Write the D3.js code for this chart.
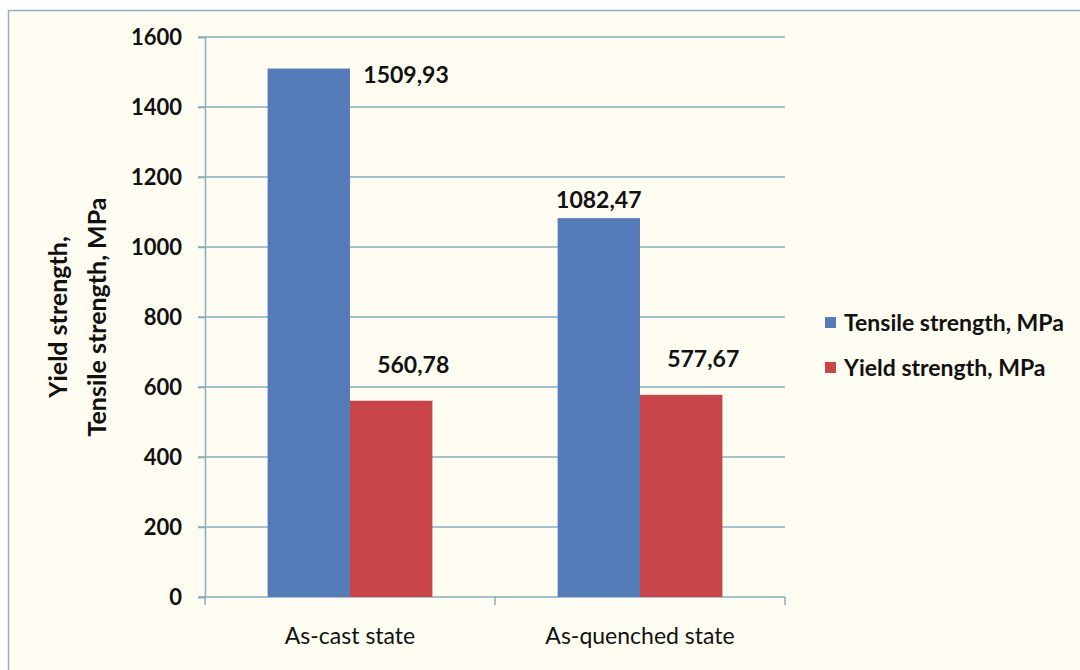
<!DOCTYPE html>
<html>
<head>
<meta charset="utf-8">
<script src="https://cdn.jsdelivr.net/npm/d3@7"></script>
<style>
  body { margin: 0; background: #fff; }
  text { font-family: Lato, "Open Sans", sans-serif; fill: #111; }
</style>
</head>
<body>
<svg id="chart" width="1080" height="670"></svg>
<script>
var categories = ['As-cast state', 'As-quenched state'];
var seriesNames = ['Tensile strength, MPa', 'Yield strength, MPa'];
var tensile = [1509.93, 1082.47];
var yieldS = [560.78, 577.67];
var yTicks = [0, 200, 400, 600, 800, 1000, 1200, 1400, 1600];
var colors = ['#557cb8', '#c9454a'];

var svg = d3.select('#chart');
var W = 1080, H = 670;
var plot = {left: 205, top: 37, right: 785, bottom: 597};

// outer frame
svg.append('rect')
  .attr('x', 0).attr('y', 0).attr('width', W).attr('height', H)
  .style('fill', '#fff');
svg.append('rect')
  .attr('x', 8.5).attr('y', 10.5).attr('width', W + 20).attr('height', H + 20)
  .style('fill', '#fffdf2')
  .style('stroke', '#8fb3c4')
  .style('stroke-width', 1.5);

var y = d3.scaleLinear().domain([0, 1600]).range([plot.bottom, plot.top]);
var x0 = d3.scaleBand().domain(categories).range([plot.left, plot.right]).padding(0);
var x1 = d3.scaleBand().domain(seriesNames)
  .range([0, x0.bandwidth()]).paddingOuter(0.76).paddingInner(0);

// gridlines
var g = svg.append('g');
g.selectAll('line.grid')
  .data(yTicks.filter(function(d) { return d > 0; }))
  .enter().append('line')
  .attr('class', 'grid')
  .attr('x1', plot.left - 7).attr('x2', plot.right)
  .attr('y1', function(d) { return y(d); })
  .attr('y2', function(d) { return y(d); })
  .style('stroke', '#86aebf')
  .style('stroke-width', 1.5);

// y axis
var yAxis = d3.axisLeft(y).tickValues(yTicks).tickSize(7).tickPadding(16)
  .tickFormat(d3.format('d'));
var ya = svg.append('g')
  .attr('transform', 'translate(' + plot.left + ',0)')
  .call(yAxis);
ya.select('.domain').style('stroke', '#86aebf').style('stroke-width', 1.5);
ya.selectAll('.tick line').style('stroke', '#86aebf').style('stroke-width', 1.5);
ya.selectAll('.tick text')
  .style('font-size', '22px').style('font-weight', 'bold').style('fill', '#111');

// x axis
var xa = svg.append('g')
  .attr('transform', 'translate(0,' + plot.bottom + ')');
xa.append('line')
  .attr('x1', plot.left - 7).attr('x2', plot.right)
  .style('stroke', '#86aebf').style('stroke-width', 1.5);
var bounds = categories.map(function(c) { return x0(c); }).concat([plot.right]);
xa.selectAll('line.xt')
  .data(bounds)
  .enter().append('line')
  .attr('class', 'xt')
  .attr('x1', function(d) { return d; }).attr('x2', function(d) { return d; })
  .attr('y1', 0).attr('y2', 8)
  .style('stroke', '#86aebf').style('stroke-width', 1.5);
xa.selectAll('text')
  .data(categories)
  .enter().append('text')
  .attr('x', function(d) { return x0(d) + x0.bandwidth() / 2; })
  .attr('y', 47)
  .attr('text-anchor', 'middle')
  .style('font-size', '23px')
  .text(function(d) { return d; });

// bars
var rows = [];
categories.forEach(function(c, i) {
  rows.push({cat: c, s: 0, v: tensile[i]});
  rows.push({cat: c, s: 1, v: yieldS[i]});
});
svg.append('g').selectAll('rect')
  .data(rows)
  .enter().append('rect')
  .attr('x', function(d) { return x0(d.cat) + x1(seriesNames[d.s]); })
  .attr('y', function(d) { return y(d.v); })
  .attr('width', x1.bandwidth())
  .attr('height', function(d) { return y(0) - y(d.v); })
  .style('fill', function(d) { return colors[d.s]; });

// data labels
var fmt = function(v) { return d3.format('.2f')(v).replace('.', ','); };
svg.append('g').selectAll('text')
  .data(rows)
  .enter().append('text')
  .attr('x', function(d) {
    var cx = x0(d.cat) + x1(seriesNames[d.s]) + x1.bandwidth() / 2;
    if (y(d.v) - 40 < plot.top) return cx + x1.bandwidth() * 1.18;
    return d.s === 1 ? cx + 22 : cx;
  })
  .attr('y', function(d) {
    if (y(d.v) - 40 < plot.top) return y(d.v) + 14;
    return d.s === 1 ? y(d.v) - 28 : y(d.v) - 10;
  })
  .attr('text-anchor', 'middle')
  .style('font-size', '23px')
  .style('font-weight', 'bold')
  .text(function(d) { return fmt(d.v); });

// y title
var title = svg.append('text')
  .attr('transform', 'translate(0,317) rotate(-90)')
  .attr('text-anchor', 'middle')
  .style('font-size', '25px')
  .style('font-weight', 'bold');
title.append('tspan').attr('x', 0).attr('y', 67).text('Yield strength,');
title.append('tspan').attr('x', 0).attr('y', 106).text('Tensile strength, MPa');

// legend
var leg = svg.append('g').attr('transform', 'translate(825,323)');
var li = leg.selectAll('g')
  .data(seriesNames)
  .enter().append('g')
  .attr('transform', function(d, i) { return 'translate(0,' + i * 45 + ')'; });
li.append('rect')
  .attr('x', 0).attr('y', -6).attr('width', 11).attr('height', 11)
  .style('fill', function(d, i) { return colors[i]; });
li.append('text')
  .attr('x', 19).attr('y', 8)
  .style('font-size', '23px')
  .style('font-weight', 'bold')
  .text(function(d) { return d; });
</script>
</body>
</html>
